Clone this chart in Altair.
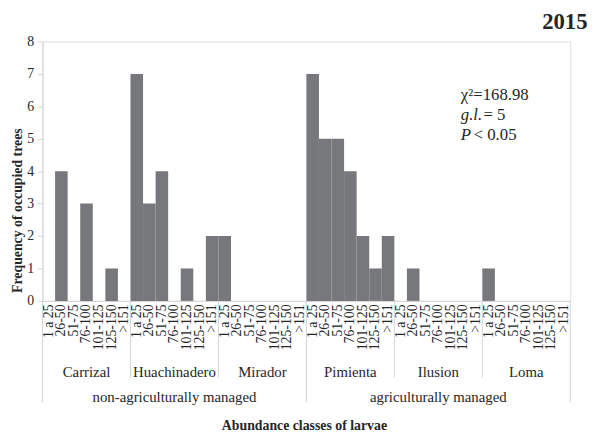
import altair as alt
import pandas as pd

sites = ["Carrizal", "Huachinadero", "Mirador", "Pimienta", "Ilusion", "Loma"]
management = ["non-agriculturally managed", "agriculturally managed"]
management_center_site = ["Huachinadero", "Ilusion"]
classes = ["1 a 25", "26-50", "51-75", "76-100", "101-125", "125-150", ">151"]

carrizal = [0, 4, 0, 3, 0, 1, 0]
huachinadero = [7, 3, 4, 0, 1, 0, 2]
mirador = [2, 0, 0, 0, 0, 0, 0]
pimienta = [7, 5, 5, 4, 2, 1, 2]
ilusion = [0, 1, 0, 0, 0, 0, 0]
loma = [1, 0, 0, 0, 0, 0, 0]

y_ticks = [0, 1, 2, 3, 4, 5, 6, 7, 8]
year_label = "2015"
chi_label = "χ²=168.98"
gl_label = "g.l."
gl_value = "= 5"
p_label = "P"
p_value = "< 0.05"

FONT = "Liberation Serif"
BAR = "#77787b"
LINE = "#d4d4d4"
TXT = "#262626"

series = [carrizal, huachinadero, mirador, pimienta, ilusion, loma]
keys = [f"{s}|{c}" for s in sites for c in classes]

rows = []
for s, vals in zip(sites, series):
    for c, v in zip(classes, vals):
        rows.append({"key": f"{s}|{c}", "site": s, "cls": c, "count": v})
df = pd.DataFrame(rows)

xscale = alt.Scale(domain=keys, paddingInner=0, paddingOuter=0)
yscale = alt.Scale(domain=[0, 8], nice=False)
x_axis = alt.Axis(labelExpr="split(datum.value, '|')[1]", labelAngle=270,
                  labelFont=FONT, labelFontSize=14, labelColor=TXT,
                  labelOverlap=False, labelPadding=3, ticks=False,
                  domainColor=LINE, title="Abundance classes of larvae",
                  titleFont=FONT, titleFontSize=14, titleFontWeight="bold",
                  titleColor=TXT, titleX=265, titleY=126,
                  titleBaseline="middle", titleAlign="center")


def xenc(**kw):
    return alt.X("key:N", scale=xscale, sort=keys, axis=x_axis,
                 title="Abundance classes of larvae", **kw)


bars = alt.Chart(df).mark_bar(color=BAR, strokeWidth=0).encode(
    x=xenc(),
    y=alt.Y("count:Q", scale=yscale,
            axis=alt.Axis(values=y_ticks, grid=False, tickSize=5, tickColor=LINE,
                          domainColor=LINE, labelFont=FONT, labelFontSize=14,
                          labelColor=TXT, labelPadding=4,
                          title="Frequency of occupied trees", titleFont=FONT,
                          titleFontSize=14, titleFontWeight="bold", titleColor=TXT,
                          titleX=-25, titleY=171, titleAlign="center",
                          titleBaseline="middle")),
)

# separators
inner_df = pd.DataFrame({"key": [f"{s}|{classes[0]}" for s in ["Huachinadero", "Mirador", "Ilusion", "Loma"]]})
outer_df = pd.DataFrame({"key": [f"{s}|{classes[0]}" for s in ["Carrizal", "Pimienta"]]})
end_df = pd.DataFrame({"key": [f"{sites[-1]}|{classes[-1]}"]})

inner = alt.Chart(inner_df).mark_rule(color=LINE, strokeWidth=1).encode(
    x=xenc(bandPosition=0), y=alt.value(263), y2=alt.value(341))
outer = alt.Chart(outer_df).mark_rule(color=LINE, strokeWidth=1).encode(
    x=xenc(bandPosition=0), y=alt.value(263), y2=alt.value(366))
end = alt.Chart(end_df).mark_rule(color=LINE, strokeWidth=1).encode(
    x=xenc(bandPosition=1), y=alt.value(263), y2=alt.value(366))

site_df = pd.DataFrame({"key": [f"{s}|{classes[3]}" for s in sites], "label": sites})
site_text = alt.Chart(site_df).mark_text(font=FONT, fontSize=15, color=TXT, baseline="middle").encode(
    x=xenc(), y=alt.value(335), text="label:N")

mg_df = pd.DataFrame({"key": [f"{s}|{classes[3]}" for s in management_center_site], "label": management})
mg_text = alt.Chart(mg_df).mark_text(font=FONT, fontSize=15, color=TXT, baseline="middle").encode(
    x=xenc(), y=alt.value(360), text="label:N")


def note(txt, x, y, style="normal"):
    return alt.Chart(pd.DataFrame({"t": [txt]})).mark_text(
        font=FONT, fontSize=17, color=TXT, align="left", baseline="middle", fontStyle=style
    ).encode(x=alt.value(x), y=alt.value(y), text="t:N")


notes = [
    note(chi_label, 424, 54),
    note(gl_label, 424, 75, "italic"),
    note(gl_value, 447, 75),
    note(p_label, 424, 95, "italic"),
    note(p_value, 437, 95),
]

chart = alt.layer(bars, inner, outer, end, site_text, mg_text, *notes).properties(
    width=535, height=263,
    padding={"left": 35, "top": 31, "right": 19, "bottom": 132},
    autosize=alt.AutoSizeParams(type="none"),
    title=alt.TitleParams(year_label, anchor="end", font=FONT, fontSize=23,
                          fontWeight="bold", color=TXT, dx=17, offset=1),
).configure_view(stroke=None).configure(background="white", font=FONT)

chart.save("out.html", embed_options={"renderer": "svg", "actions": False})
